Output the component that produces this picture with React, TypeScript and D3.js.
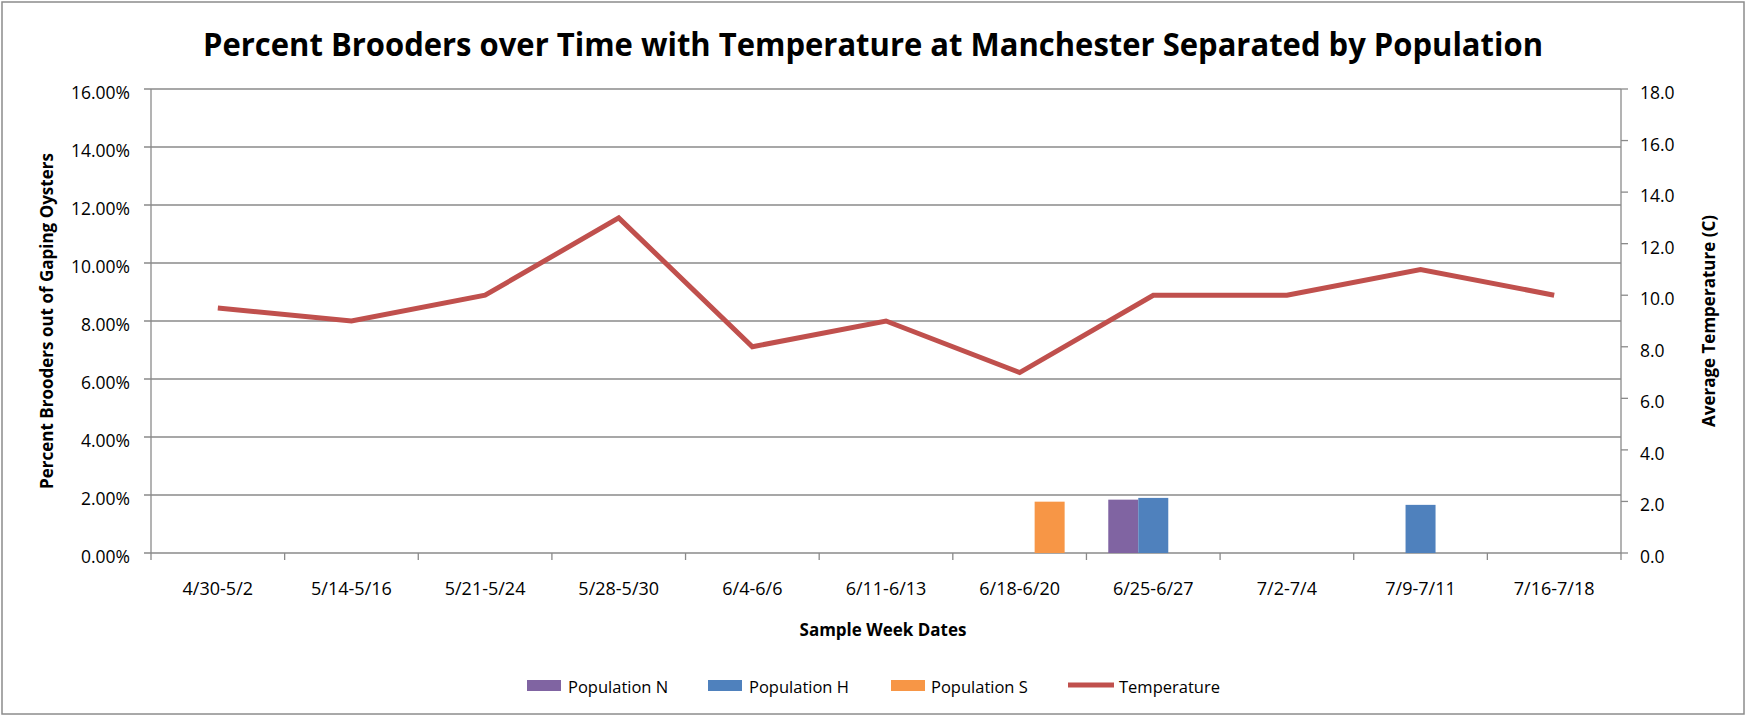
import React from "react";
import * as d3 from "d3";

const categories = ["4/30-5/2", "5/14-5/16", "5/21-5/24", "5/28-5/30", "6/4-6/6", "6/11-6/13", "6/18-6/20", "6/25-6/27", "7/2-7/4", "7/9-7/11", "7/16-7/18"];
const seriesNames = ["Population N", "Population H", "Population S"];
const seriesColors = ["#8064A2", "#4F81BD", "#F79646"];
const popN = [0, 0, 0, 0, 0, 0, 0, 0.0184, 0, 0, 0];
const popH = [0, 0, 0, 0, 0, 0, 0, 0.0190, 0, 0.0166, 0];
const popS = [0, 0, 0, 0, 0, 0, 0.0177, 0, 0, 0, 0];
const temperature = [9.5, 9.0, 10.0, 13.0, 8.0, 9.0, 7.0, 10.0, 10.0, 11.0, 10.0];
const leftTicks = [0, 0.02, 0.04, 0.06, 0.08, 0.1, 0.12, 0.14, 0.16];
const rightTicks = [0, 2, 4, 6, 8, 10, 12, 14, 16, 18];

const W = 1746, H = 716;
const M = { left: 151, right: 1621, top: 89, bottom: 553 };
const FONT = "'Open Sans', 'DejaVu Sans', sans-serif";
const GRID = "#8a8a8a";
const TICK_FS = 17.5;

export default function App() {
  const x = d3.scaleBand<string>().domain(categories).range([M.left, M.right]).paddingInner(0).paddingOuter(0);
  const bw = x.bandwidth();
  const inner = d3.scaleBand<string>().domain(seriesNames).range([-45, 45]);
  const yL = d3.scaleLinear().domain([0, 0.16]).range([M.bottom, M.top]);
  const yR = d3.scaleLinear().domain([0, 18]).range([M.bottom, M.top]);
  const series = [popN, popH, popS];
  const line = d3.line<number>().x((_, i) => (x(categories[i]) as number) + bw / 2).y((d) => yR(d));
  const fmtL = (v: number) => (v * 100).toFixed(2) + "%";
  const fmtR = (v: number) => v.toFixed(1);

  const legendItems = [
    { name: "Population N", color: seriesColors[0], sx: 527, tx: 568, type: "rect" },
    { name: "Population H", color: seriesColors[1], sx: 708, tx: 749, type: "rect" },
    { name: "Population S", color: seriesColors[2], sx: 891, tx: 931, type: "rect" },
    { name: "Temperature", color: "#C0504D", sx: 1068, tx: 1119, type: "line" },
  ];

  return (
    <svg width={W} height={H} style={{ position: "absolute", left: 0, top: 0, background: "#fff" }} fontFamily={FONT}>
      <rect x={2} y={2} width={W - 4} height={H - 4} fill="#fff" stroke="#8c8c8c" strokeWidth={1.5} />
      <text x={873} y={47} textAnchor="middle" dominantBaseline="middle" fontSize={32} fontWeight="bold" textLength={1340} lengthAdjust="spacingAndGlyphs" fill="#000">
        Percent Brooders over Time with Temperature at Manchester Separated by Population
      </text>

      {/* gridlines */}
      {leftTicks.map((t) => (
        <line key={"g" + t} x1={M.left - 7} x2={M.right} y1={yL(t)} y2={yL(t)} stroke={GRID} strokeWidth={1.3} />
      ))}
      {rightTicks.map((t) => (
        <line key={"rt" + t} x1={M.right} x2={M.right + 7} y1={yR(t)} y2={yR(t)} stroke={GRID} strokeWidth={1.3} />
      ))}
      <line x1={M.left} x2={M.left} y1={M.top} y2={M.bottom} stroke={GRID} strokeWidth={1.3} />
      <line x1={M.right} x2={M.right} y1={M.top} y2={M.bottom} stroke={GRID} strokeWidth={1.3} />
      {categories.map((c) => (
        <line key={"xt" + c} x1={(x(c) as number)} x2={(x(c) as number)} y1={M.bottom} y2={M.bottom + 7} stroke={GRID} strokeWidth={1.3} />
      ))}
      <line x1={M.right} x2={M.right} y1={M.bottom} y2={M.bottom + 7} stroke={GRID} strokeWidth={1.3} />

      {/* tick labels */}
      {leftTicks.map((t) => (
        <text key={"lt" + t} x={130} y={yL(t) + 3} textAnchor="end" dominantBaseline="central" fontSize={TICK_FS} fill="#000">{fmtL(t)}</text>
      ))}
      {rightTicks.map((t) => (
        <text key={"rl" + t} x={1640} y={yR(t) + 3} textAnchor="start" dominantBaseline="central" fontSize={TICK_FS} fill="#000">{fmtR(t)}</text>
      ))}
      {categories.map((c) => (
        <text key={"xl" + c} x={(x(c) as number) + bw / 2} y={588} textAnchor="middle" dominantBaseline="central" fontSize={18} fill="#000">{c}</text>
      ))}

      {/* axis titles */}
      <text transform={`translate(46,${(M.top + M.bottom) / 2}) rotate(-90)`} textAnchor="middle" dominantBaseline="central" fontSize={17} fontWeight="bold">Percent Brooders out of Gaping Oysters</text>
      <text transform={`translate(1708,${(M.top + M.bottom) / 2}) rotate(-90)`} textAnchor="middle" dominantBaseline="central" fontSize={17} fontWeight="bold">Average Temperature (C)</text>
      <text x={883} y={629} textAnchor="middle" dominantBaseline="central" fontSize={17} fontWeight="bold">Sample Week Dates</text>

      {/* bars */}
      {series.map((vals, si) =>
        vals.map((v, i) =>
          v > 0 ? (
            <rect key={`b${si}-${i}`} x={(x(categories[i]) as number) + bw / 2 + (inner(seriesNames[si]) as number)} y={yL(v)} width={inner.bandwidth()} height={yL(0) - yL(v)} fill={seriesColors[si]} />
          ) : null
        )
      )}

      {/* temperature line */}
      <path d={line(temperature) || ""} fill="none" stroke="#C0504D" strokeWidth={5} strokeLinejoin="miter" />

      {/* legend */}
      {legendItems.map((it) => (
        <g key={it.name}>
          {it.type === "rect" ? (
            <rect x={it.sx} y={680} width={34} height={11} fill={it.color} />
          ) : (
            <line x1={it.sx} x2={it.sx + 46} y1={685} y2={685} stroke={it.color} strokeWidth={5} />
          )}
          <text x={it.tx} y={686} dominantBaseline="central" fontSize={16.5} fill="#000">{it.name}</text>
        </g>
      ))}
    </svg>
  );
}
